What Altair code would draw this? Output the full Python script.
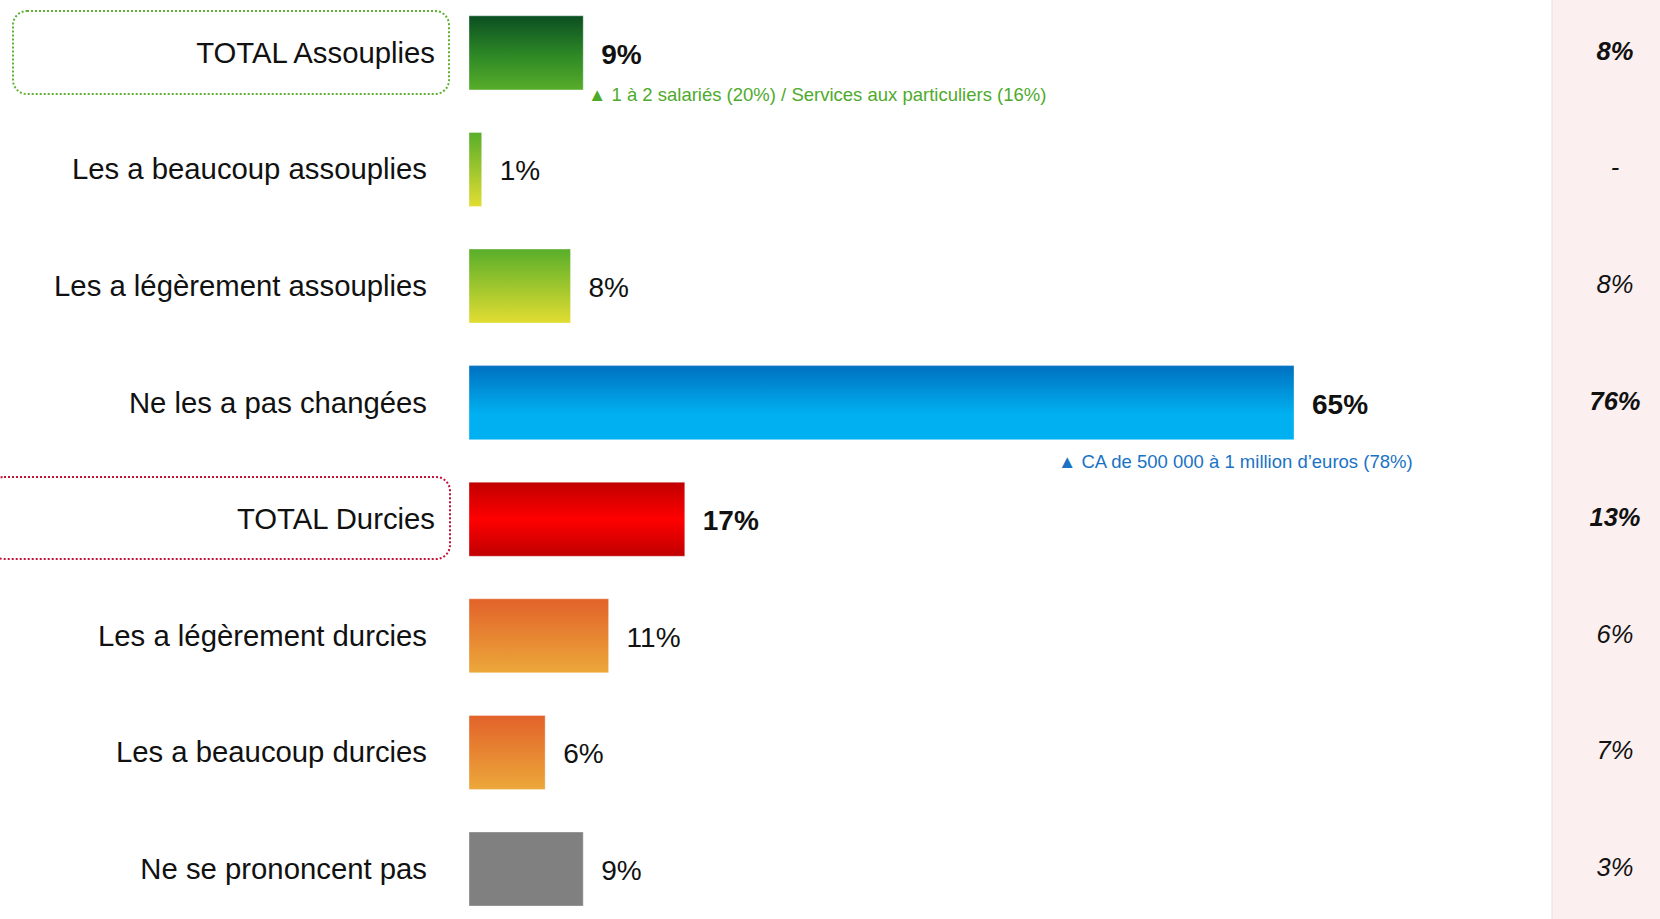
import altair as alt
import pandas as pd

categories = [
    "TOTAL Assouplies",
    "Les a beaucoup assouplies",
    "Les a légèrement assouplies",
    "Ne les a pas changées",
    "TOTAL Durcies",
    "Les a légèrement durcies",
    "Les a beaucoup durcies",
    "Ne se prononcent pas",
]
values = [9, 1, 8, 65, 17, 11, 6, 9]
value_labels = ["9%", "1%", "8%", "65%", "17%", "11%", "6%", "9%"]
previous_labels = ["8%", "-", "8%", "76%", "13%", "6%", "7%", "3%"]
is_total = [True, False, False, False, True, False, False, False]
is_bold = [True, False, False, True, True, False, False, False]

note_green = "▲ 1 à 2 salariés (20%) / Services aux particuliers (16%)"
note_blue = "▲ CA de 500 000 à 1 million d’euros (78%)"

df = pd.DataFrame({
    "cat": categories,
    "val": values,
    "lab": value_labels,
    "prev": previous_labels,
    "total": is_total,
    "bold": is_bold,
})

W, H = 1660, 919
PX_PER = 825 / 65.0
X0 = 469
xdom = [-X0 / PX_PER, (W - X0) / PX_PER]

FONT = "Liberation Sans"

def grad(stops):
    return alt.Gradient(
        gradient="linear", x1=0, y1=0, x2=0, y2=1,
        stops=[alt.GradientStop(color=c, offset=o) for o, c in stops],
    )

gradients = {
    "TOTAL Assouplies": grad([(0, "#0b4f22"), (0.55, "#2f8a26"), (1, "#58ad2a")]),
    "Les a beaucoup assouplies": grad([(0, "#58ae2a"), (1, "#e2dd32")]),
    "Les a légèrement assouplies": grad([(0, "#58ae2a"), (1, "#e2dd32")]),
    "Ne les a pas changées": grad([(0, "#0070c0"), (0.65, "#00b0f0"), (1, "#00b0f0")]),
    "TOTAL Durcies": grad([(0, "#c00000"), (0.5, "#ff0000"), (1, "#c00000")]),
    "Les a légèrement durcies": grad([(0, "#e2622a"), (1, "#eca83a")]),
    "Les a beaucoup durcies": grad([(0, "#e2622a"), (1, "#eca83a")]),
    "Ne se prononcent pas": grad([(0, "#808080"), (1, "#808080")]),
}

yscale = alt.Scale(domain=categories, paddingInner=0.365, paddingOuter=0.1235, align=0.55)
xscale = alt.Scale(domain=xdom, nice=False, zero=False)
Y = alt.Y("cat:N", scale=yscale, axis=None, sort=categories)

base = alt.Chart(df)

one = alt.Data(values=[{"a": 1}])

# pink right panel
panel = alt.Chart(one).mark_rect(fill="#fbefef").encode(
    x=alt.value(1552), x2=alt.value(W), y=alt.value(0), y2=alt.value(H)
)
panel_line = alt.Chart(one).mark_rule(color="#eadcdc", strokeWidth=1).encode(
    x=alt.value(1552), y=alt.value(0), y2=alt.value(H)
)

# dotted boxes around totals
box_green = alt.Chart(one).mark_rect(
    fill="white", fillOpacity=0, stroke="#5db233", strokeWidth=2,
    strokeDash=[2, 2], cornerRadius=14,
).encode(x=alt.value(13), x2=alt.value(449), y=alt.value(11), y2=alt.value(94))
box_red = alt.Chart(one).mark_rect(
    fill="white", fillOpacity=0, stroke="#c0143c", strokeWidth=2,
    strokeDash=[2, 2], cornerRadius=14,
).encode(x=alt.value(-10), x2=alt.value(450), y=alt.value(477), y2=alt.value(559))

bars = []
for c in categories:
    bars.append(
        base.transform_filter(alt.datum.cat == c).mark_bar(
            color=gradients[c], stroke="#ffffff", strokeOpacity=0.35, strokeWidth=1
        ).encode(
            x=alt.X("val:Q", scale=xscale, axis=None),
            x2=alt.datum(0),
            y=Y,
        )
    )

cat_labels = base.transform_filter("!datum.total").mark_text(
    align="right", baseline="middle", font=FONT, fontSize=29.3, color="#111111", dy=1
).encode(x=alt.value(427), y=Y, text="cat:N")
cat_labels_total = base.transform_filter("datum.total").mark_text(
    align="right", baseline="middle", font=FONT, fontSize=29.3, color="#111111", dy=1
).encode(x=alt.value(435), y=Y, text="cat:N")

val_labels = base.transform_filter("!datum.bold").mark_text(
    align="left", baseline="middle", font=FONT, fontSize=28, color="#111111", dx=18, dy=3
).encode(x=alt.X("val:Q", scale=xscale, axis=None), y=Y, text="lab:N")
val_labels_bold = base.transform_filter("datum.bold").mark_text(
    align="left", baseline="middle", font=FONT, fontSize=28, fontWeight="bold",
    color="#111111", dx=18, dy=3
).encode(x=alt.X("val:Q", scale=xscale, axis=None), y=Y, text="lab:N")

prev_labels = base.transform_filter("!datum.bold").mark_text(
    align="center", baseline="middle", font=FONT, fontSize=25.5, fontStyle="italic",
    color="#111111", dy=-1
).encode(x=alt.value(1615), y=Y, text="prev:N")
prev_labels_bold = base.transform_filter("datum.bold").mark_text(
    align="center", baseline="middle", font=FONT, fontSize=25.5, fontStyle="italic",
    fontWeight="bold", color="#111111", dy=-1
).encode(x=alt.value(1615), y=Y, text="prev:N")

ann_green = alt.Chart(alt.Data(values=[{"t": note_green}])).mark_text(
    align="left", baseline="middle", font=FONT, fontSize=18.5, color="#4faa2c"
).encode(x=alt.value(588), y=alt.value(95), text="t:N")
ann_blue = alt.Chart(alt.Data(values=[{"t": note_blue}])).mark_text(
    align="left", baseline="middle", font=FONT, fontSize=18.5, color="#1a72c4"
).encode(x=alt.value(1058), y=alt.value(462), text="t:N")

chart = alt.layer(
    panel, panel_line, box_green, box_red, *bars,
    cat_labels, cat_labels_total, val_labels, val_labels_bold,
    prev_labels, prev_labels_bold, ann_green, ann_blue,
).properties(
    width=W, height=H, padding=0, autosize=alt.AutoSizeParams(type="none"),
    background="white",
).configure_view(stroke=None)

chart.save("out.html", embed_options={"renderer": "svg", "actions": False})
